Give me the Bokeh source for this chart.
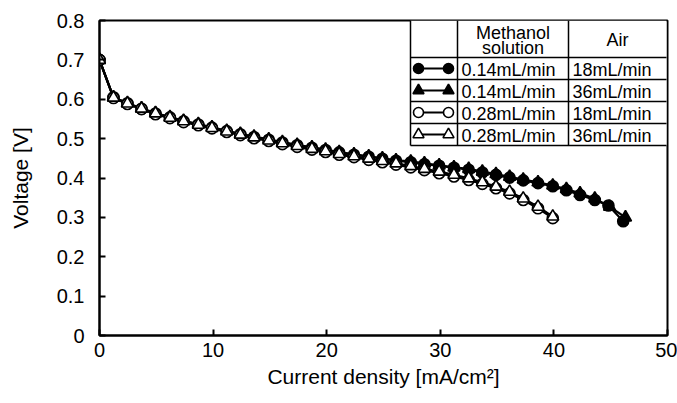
from bokeh.plotting import figure
from bokeh.models import Range1d, Label, FixedTicker
from bokeh.embed import file_html
from bokeh.resources import INLINE

# ---------------- data ----------------
x_014 = [0, 1.23, 2.46, 3.7, 4.93, 6.2, 7.4, 8.7, 9.9, 11.2, 12.4, 13.6, 14.9, 16.1,
         17.4, 18.7, 19.9, 21.1, 22.4, 23.7, 24.9, 26.1, 27.4, 28.6, 29.9, 31.2, 32.5,
         33.7, 34.9, 36.1, 37.3, 38.6, 39.9, 41.1, 42.3, 43.6, 44.8, 46.1]
v_014_18 = [0.70, 0.605, 0.59, 0.576, 0.564, 0.554, 0.544, 0.536, 0.528, 0.519, 0.511,
            0.504, 0.497, 0.49, 0.483, 0.477, 0.471, 0.465, 0.459, 0.454, 0.449, 0.444,
            0.44, 0.435, 0.431, 0.426, 0.421, 0.414, 0.408, 0.401, 0.394, 0.387, 0.379,
            0.369, 0.357, 0.344, 0.33, 0.29]
x_014_36 = [0, 1.23, 2.46, 3.7, 4.93, 6.2, 7.4, 8.7, 9.9, 11.2, 12.4, 13.6, 14.9, 16.1,
            17.4, 18.7, 19.9, 21.1, 22.4, 23.7, 24.9, 26.1, 27.4, 28.6, 29.9, 31.2, 32.5,
            33.7, 34.9, 36.1, 37.3, 38.6, 39.9, 41.1, 42.3, 43.6, 44.9, 46.3]
v_014_36 = [0.70, 0.605, 0.59, 0.577, 0.565, 0.555, 0.545, 0.537, 0.529, 0.52, 0.512,
            0.505, 0.498, 0.491, 0.484, 0.478, 0.472, 0.466, 0.46, 0.455, 0.45, 0.445,
            0.442, 0.437, 0.432, 0.427, 0.423, 0.416, 0.41, 0.403, 0.396, 0.389, 0.381,
            0.372, 0.361, 0.348, 0.327, 0.30]
x_028 = [0, 1.23, 2.46, 3.7, 4.93, 6.2, 7.4, 8.7, 9.9, 11.2, 12.4, 13.6, 14.9, 16.1,
         17.4, 18.7, 19.9, 21.1, 22.4, 23.7, 24.9, 26.1, 27.4, 28.6, 29.9, 31.2, 32.5,
         33.7, 34.9, 36.1, 37.3, 38.6, 39.9]
v_028_18 = [0.70, 0.603, 0.588, 0.575, 0.562, 0.552, 0.542, 0.534, 0.526, 0.517, 0.509,
            0.501, 0.494, 0.486, 0.479, 0.472, 0.466, 0.459, 0.453, 0.446, 0.44, 0.434,
            0.427, 0.42, 0.412, 0.404, 0.395, 0.385, 0.374, 0.361, 0.344, 0.323, 0.298]
v_028_36 = [0.70, 0.604, 0.589, 0.576, 0.564, 0.553, 0.544, 0.535, 0.527, 0.518, 0.51,
            0.503, 0.495, 0.488, 0.481, 0.474, 0.468, 0.461, 0.455, 0.449, 0.443, 0.437,
            0.43, 0.423, 0.416, 0.408, 0.399, 0.389, 0.378, 0.365, 0.348, 0.327, 0.302]

x_ticks = [0, 10, 20, 30, 40, 50]
y_ticks = [0, 0.1, 0.2, 0.3, 0.4, 0.5, 0.6, 0.7, 0.8]
y_tick_labels = ["0", "0.1", "0.2", "0.3", "0.4", "0.5", "0.6", "0.7", "0.8"]

header_methanol = ["Methanol", "solution"]
header_air = "Air"
methanol_rates = ["0.14mL/min", "0.14mL/min", "0.28mL/min", "0.28mL/min"]
air_rates = ["18mL/min", "36mL/min", "18mL/min", "36mL/min"]

# ---------------- figure ----------------
FONT = "Liberation Sans"
W, H = 677, 403
L, R, T, B = 99, 10, 20, 68
XMIN, XMAX, YMIN, YMAX = 0, 50, 0, 0.8

p = figure(width=W, height=H, output_backend="svg", toolbar_location=None,
           x_range=Range1d(XMIN, XMAX), y_range=Range1d(YMIN, YMAX),
           min_border_left=L, min_border_right=R, min_border_top=T, min_border_bottom=B)
p.background_fill_color = "white"
p.border_fill_color = "white"
p.grid.visible = False
p.outline_line_color = "black"
p.outline_line_width = 2

for ax in (p.xaxis[0], p.yaxis[0]):
    ax.axis_line_color = "black"
    ax.axis_line_width = 2
    ax.major_tick_line_color = "black"
    ax.major_tick_line_width = 2
    ax.major_tick_in = 6
    ax.major_tick_out = 0
    ax.minor_tick_line_color = None
    ax.major_label_text_font = FONT
    ax.major_label_text_font_size = "20px"
    ax.major_label_text_color = "black"
    ax.axis_label_text_font = FONT
    ax.axis_label_text_font_size = "21px"
    ax.axis_label_text_font_style = "normal"
    ax.axis_label_text_color = "black"

p.xaxis.ticker = FixedTicker(ticks=x_ticks)
p.yaxis.ticker = FixedTicker(ticks=y_ticks)
p.yaxis.major_label_overrides = {t: s for t, s in zip(y_ticks, y_tick_labels)}
p.xaxis.major_label_standoff = 7
p.yaxis.major_label_standoff = 15
p.xaxis.axis_label = "Current density [mA/cm²]"
p.yaxis.axis_label = "Voltage [V]"
p.xaxis.axis_label_standoff = 5
p.yaxis.axis_label_standoff = 22

# ---------------- series ----------------
LW = 2.2
MS_C = 11
MS_T = 12
series = [
    (x_014, v_014_18, "circle", "black", MS_C),
    (x_014_36, v_014_36, "triangle", "black", MS_T),
    (x_028, v_028_18, "circle", "white", MS_C),
    (x_028, v_028_36, "triangle", "white", MS_T),
]
for xs, ys, mk, fill, ms in series:
    p.line(xs, ys, line_color="black", line_width=LW)
for xs, ys, mk, fill, ms in series:
    p.scatter(xs, ys, marker=mk, size=ms, fill_color=fill, line_color="black", line_width=1.6)

# ---------------- legend table (pixel layout -> data coords) ----------------
PW = W - L - R
PH = H - T - B


def dx(px):
    return XMIN + (px - L) / PW * (XMAX - XMIN)


def dy(py):
    return YMAX - (py - T) / PH * (YMAX - YMIN)


tx0, tx1 = 410, W - R - 1
ty0, ty1 = T, 145
col1, col2 = 457, 568
rows = [57, 79, 101, 123]

seg_x0, seg_y0, seg_x1, seg_y1 = [], [], [], []
for xv in (tx0, col1, col2):
    seg_x0.append(dx(xv)); seg_x1.append(dx(xv)); seg_y0.append(dy(ty0)); seg_y1.append(dy(ty1))
for yv in rows + [ty1]:
    seg_x0.append(dx(tx0)); seg_x1.append(dx(tx1)); seg_y0.append(dy(yv)); seg_y1.append(dy(yv))
p.segment(seg_x0, seg_y0, seg_x1, seg_y1, line_color="black", line_width=1.5)

p.quad(left=[dx(tx0)], right=[dx(tx1)], top=[dy(ty0)], bottom=[dy(ty1)],
       fill_color="white", line_color=None, level="underlay")

TFS = "18px"
mid1 = (col1 + col2) / 2
mid2 = (col2 + tx1) / 2
for txt, xx, yy in [(header_methanol[0], mid1, 32), (header_methanol[1], mid1, 47),
                    (header_air, mid2, 39)]:
    p.add_layout(Label(x=dx(xx), y=dy(yy), text=txt, text_font=FONT, text_color="black",
                       text_font_size=TFS, text_align="center", text_baseline="middle"))

row_tops = [57, 79, 101, 123]
for i, (mk, fill, ms) in enumerate([(s[2], s[3], s[4]) for s in series]):
    cy = row_tops[i] + 11
    p.line([dx(418), dx(448)], [dy(cy), dy(cy)], line_color="black", line_width=LW)
    p.scatter([dx(418), dx(448)], [dy(cy), dy(cy)], marker=mk, size=ms - 1,
              fill_color=fill, line_color="black", line_width=1.6)
    p.add_layout(Label(x=dx(461), y=dy(cy + 1), text=methanol_rates[i], text_font=FONT,
                       text_color="black", text_font_size=TFS, text_align="left",
                       text_baseline="middle"))
    p.add_layout(Label(x=dx(572), y=dy(cy + 1), text=air_rates[i], text_font=FONT,
                       text_color="black", text_font_size=TFS, text_align="left",
                       text_baseline="middle"))

open("out.html", "w").write(file_html(p, INLINE))
